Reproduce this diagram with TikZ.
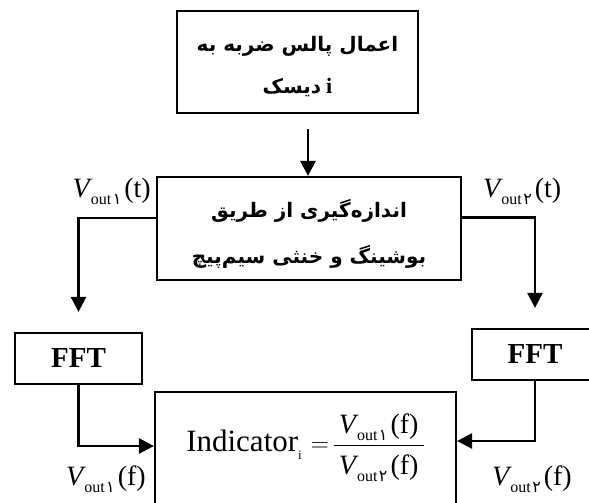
\documentclass[tikz,border=0pt]{standalone}
\usepackage{fontspec}
\setmainfont{Liberation Serif}
\newfontfamily\arabicfont[Script=Arabic]{DejaVu Sans}
\TeXXeTstate=1
\usetikzlibrary{arrows.meta}
\newcommand{\Vout}[2]{{\fontsize{28}{28}\selectfont\itshape V}\kern1pt\raisebox{-7pt}{\fontsize{16}{16}\selectfont out\kern1.5pt{\arabicfont #1}}\kern3pt{\fontsize{28}{28}\selectfont(#2)}}
\newcommand{\fa}[1]{{\arabicfont\bfseries\beginR #1\endR}}
\newcommand{\twolines}[2]{\raisebox{-6pt}[\height][\depth]{\fontsize{20}{21}\selectfont\begin{tabular}{@{}c@{}}#1\\[21pt]#2\end{tabular}}}
\begin{document}
\begin{tikzpicture}[x=1pt,y=1pt,
  box/.style={draw, line width=2.2pt, inner sep=0pt, align=center},
  arr/.style={line width=2.6pt, -{Triangle[length=15pt,width=15pt]}},
  lab/.style={inner sep=0pt},
  fft/.style={box, minimum height=51pt, font=\fontsize{29}{29}\selectfont\bfseries}]
\useasboundingbox (0,0) rectangle (589,-503);
\node[box, minimum width=241pt, minimum height=102pt] (top) at (297.5,-62)
  {\twolines{\fa{اعمال پالس ضربه به}}{\fa{دیسک} {\fontsize{22}{22}\selectfont\bfseries i}}};
\node[box, minimum width=304pt, minimum height=103pt] (mid) at (309,-228.5)
  {\twolines{\fa{اندازه‌گیری از طریق}}{\fa{بوشینگ و خنثی سیم‌پیچ}}};
\node[fft, minimum width=127pt] (fftL) at (78.5,-358.5) {FFT};
\node[fft, minimum width=126pt] (fftR) at (535,-354.5) {FFT};
\node[box, minimum width=301pt, minimum height=123pt] (bot) at (305.5,-453.5)
  {\raisebox{6pt}[\height][\depth]{\fontsize{31}{31}\selectfont Indicator\raisebox{-8pt}{\fontsize{13}{13}\selectfont i}\kern9pt$=$\kern4pt$\displaystyle\frac{\mbox{\rule[-10pt]{0pt}{1pt}\kern5pt\Vout{۱}{f}\kern5pt}}{\mbox{\rule{0pt}{28pt}\kern5pt\Vout{۲}{f}\kern5pt}}$}};
\coordinate (a0) at (308,-129);
\draw[arr] (a0) -- (a0 |- mid.north);
\draw[arr] ([yshift=10.5pt]mid.west) -| ([yshift=20pt]fftL.north);
\draw[arr] ([yshift=11pt]mid.east) -| ([yshift=20pt]fftR.north);
\draw[arr] (fftL.south) |- ([yshift=7.5pt]bot.west);
\draw[arr] (fftR.south) |- ([yshift=12.5pt]bot.east);
\node[lab, anchor=base east] (vt1) at (151,-197) {\Vout{۱}{t}};
\node[lab, anchor=base west] (vt2) at (483,-197) {\Vout{۲}{t}};
\node[lab, anchor=base east] (vf1) at (146,-485) {\Vout{۱}{f}};
\node[lab, anchor=base west] (vf2) at (492,-485) {\Vout{۲}{f}};
\end{tikzpicture}
\end{document}
